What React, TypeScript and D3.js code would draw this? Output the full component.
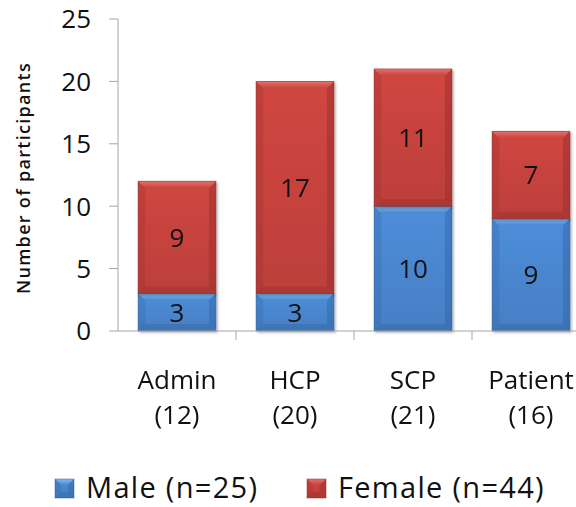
import { useMemo } from "react";
import * as d3 from "d3";

const categories = ["Admin", "HCP", "SCP", "Patient"];
const totals = ["(12)", "(20)", "(21)", "(16)"];
const male = [3, 3, 10, 9];
const female = [9, 17, 11, 7];
const seriesNames = ["Male (n=25)", "Female (n=44)"];
const yTicks = [0, 5, 10, 15, 20, 25];

const W = 576;
const H = 507;
const FONT = "'Open Sans', 'Noto Sans', sans-serif";

// base, light bevel, dark edge
const palette = [
  { id: "m", body: "#4a86cf", top: "#7dbaf2", dark: "#2e5f9c" },
  { id: "f", body: "#c6423e", top: "#e6716c", dark: "#8e2b28" },
];

function Bevel({ x, y, w, h, c }: { x: number; y: number; w: number; h: number; c: typeof palette[0] }) {
  const b = Math.min(7, h / 3);
  return (
    <g>
      <rect x={x} y={y} width={w} height={h} fill={`url(#body-${c.id})`} />
      {/* top bevel */}
      <polygon
        points={`${x},${y} ${x + w},${y} ${x + w - b},${y + b} ${x + b},${y + b}`}
        fill={`url(#top-${c.id})`}
      />
      {/* sides */}
      <polygon points={`${x},${y} ${x + b},${y + b} ${x + b},${y + h - b} ${x},${y + h}`} fill={c.dark} opacity={0.25} />
      <polygon points={`${x + w},${y} ${x + w - b},${y + b} ${x + w - b},${y + h - b} ${x + w},${y + h}`} fill={c.dark} opacity={0.4} />
      <polygon points={`${x},${y + h} ${x + b},${y + h - b} ${x + w - b},${y + h - b} ${x + w},${y + h}`} fill={c.dark} opacity={0.35} />
      <rect x={x} y={y} width={w} height={h} fill="none" stroke={c.dark} strokeWidth={0.8} opacity={0.6} />
    </g>
  );
}

export default function App() {
  const x = useMemo(() => d3.scaleBand<string>().domain(categories).range([118, 590]).paddingInner(0.34).paddingOuter(0.17), []);
  const y = useMemo(() => d3.scaleLinear().domain([0, 25]).range([331, 19]), []);
  const stack = useMemo(() => {
    const rows = categories.map((c, i) => ({ c, m: male[i], f: female[i] }));
    return d3.stack<{ c: string; m: number; f: number }>().keys(["m", "f"])(rows);
  }, []);

  return (
    <svg width={W} height={H} style={{ position: "absolute", left: 0, top: 0, background: "#fff" }} fontFamily={FONT}>
      <defs>
        {palette.map((c) => (
          <g key={c.id}>
            <linearGradient id={`body-${c.id}`} x1="0" y1="0" x2="0" y2="1">
              <stop offset="0" stopColor={d3.color(c.body)!.brighter(0.15).toString()} />
              <stop offset="1" stopColor={d3.color(c.body)!.darker(0.15).toString()} />
            </linearGradient>
            <linearGradient id={`top-${c.id}`} x1="0" y1="0" x2="0" y2="1">
              <stop offset="0" stopColor={c.top} />
              <stop offset="1" stopColor={c.body} />
            </linearGradient>
          </g>
        ))}
        <filter id="shadow" x="-10%" y="-10%" width="130%" height="130%">
          <feDropShadow dx="1.5" dy="1.5" stdDeviation="1.2" floodColor="#000" floodOpacity="0.3" />
        </filter>
      </defs>

      {/* y axis */}
      <line x1={118} x2={118} y1={y(25)} y2={y(0)} stroke="#a6a6a6" strokeWidth={1} />
      {yTicks.map((t) => (
        <g key={t}>
          <line x1={109} x2={118} y1={y(t)} y2={y(t)} stroke="#a6a6a6" />
          <text x={91} y={y(t)} dy="0.36em" textAnchor="end" fontSize={26} fill="#111">
            {t}
          </text>
        </g>
      ))}
      <text
        transform={`translate(30,178) rotate(-90)`}
        textAnchor="middle"
        fontSize={18}
        fontWeight={600}
        letterSpacing={1.3}
        fill="#111"
      >
        Number of participants
      </text>

      {/* bars */}
      {stack.map((layer, si) => (
        <g key={layer.key} filter="url(#shadow)">
          {layer.map((d, i) => {
            const bx = x(categories[i])!;
            const y0 = y(d[1]);
            const h = y(d[0]) - y(d[1]);
            return <Bevel key={i} x={bx} y={y0} w={x.bandwidth()} h={h} c={palette[si]} />;
          })}
        </g>
      ))}
      {stack.map((layer) =>
        layer.map((d, i) => (
          <text
            key={layer.key + i}
            x={x(categories[i])! + x.bandwidth() / 2}
            y={y((d[0] + d[1]) / 2)}
            dy="0.36em"
            textAnchor="middle"
            fontSize={26}
            fill="#111"
          >
            {d[1] - d[0]}
          </text>
        ))
      )}

      {/* x axis */}
      <line x1={118} x2={W} y1={y(0)} y2={y(0)} stroke="#a6a6a6" />
      {categories.map((c, i) => {
        const bx = x(c)! - (x.step() * x.paddingInner()) / 2;
        return (
          <g key={c}>
            <line x1={bx + x.step()} x2={bx + x.step()} y1={y(0)} y2={y(0) + 9} stroke="#a6a6a6" />
            <text x={x(c)! + x.bandwidth() / 2} y={389} textAnchor="middle" fontSize={26} fill="#111">
              {c}
            </text>
            <text x={x(c)! + x.bandwidth() / 2} y={424} textAnchor="middle" fontSize={26} fill="#111">
              {totals[i]}
            </text>
          </g>
        );
      })}

      {/* legend */}
      {seriesNames.map((s, i) => {
        const lx = i === 0 ? 55 : 307;
        return (
          <g key={s} transform={`translate(${lx},479)`}>
            <Bevel x={0} y={0} w={19} h={19} c={palette[i]} />
            <text x={31} y={19} fontSize={29} letterSpacing={1.3} fill="#111">
              {s}
            </text>
          </g>
        );
      })}
    </svg>
  );
}
